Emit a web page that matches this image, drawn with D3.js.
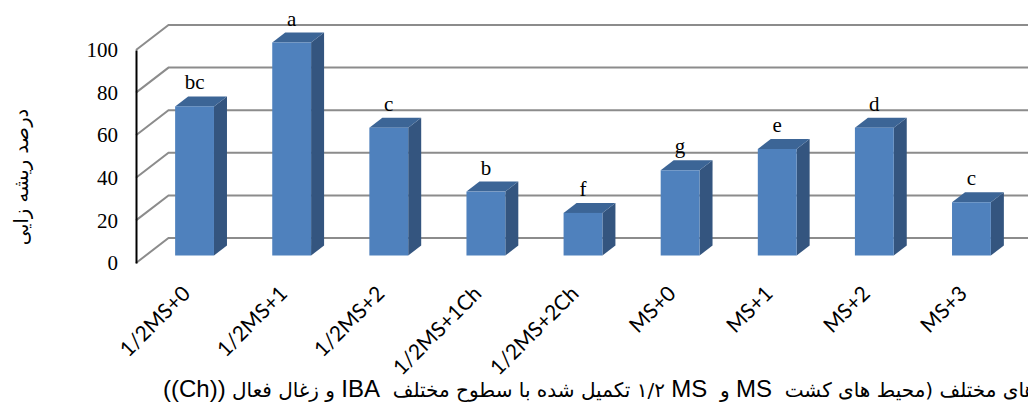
<!DOCTYPE html>
<html>
<head>
<meta charset="utf-8">
<script src="https://cdn.jsdelivr.net/npm/d3@7"></script>
<style>
    html, body { margin: 0; padding: 0; background: #fff; overflow: hidden; }
    svg { display: block; }
    .y-axis text { font-family: "Liberation Serif", serif; font-size: 21px; fill: #000; }
    .x-axis text { font-family: Lato, sans-serif; font-size: 21px; fill: #000; }
    .sig-label { font-family: "Liberation Serif", serif; font-size: 21px; fill: #000; text-anchor: middle; }
    .y-title { font-family: "DejaVu Sans", sans-serif; font-size: 19.5px; fill: #000; }
    .caption { font-family: "DejaVu Sans", sans-serif; font-size: 20px; fill: #000; white-space: pre; direction: rtl; text-anchor: end; }
    .caption .latin { font-family: "Liberation Sans", sans-serif; font-size: 24px; }
</style>
</head>
<body>
<svg id="chart" width="1028" height="403"></svg>
<script>
// chart data
const categories = ["1/2MS+0", "1/2MS+1", "1/2MS+2", "1/2MS+1Ch", "1/2MS+2Ch", "MS+0", "MS+1", "MS+2", "MS+3"];
const values = [70, 100, 60, 30, 20, 40, 50, 60, 25];
const sigLabels = ["bc", "a", "c", "b", "f", "g", "e", "d", "c"];
const yTicks = [0, 20, 40, 60, 80, 100];
const yTitle = "درصد ریشه زایی";

const svg = d3.select("#chart");

// the axis sits on the front plane, bars are pushed back a bit, wall is at the back
const plotBottom = 263, plotTop = 50;
const wallDx = 32.5, wallDy = -25;
const barShiftY = -7.5;
const depthDx = 13, depthDy = -10;
const axisX = 136;

const x = d3.scaleBand()
    .domain(categories)
    .range([146, 1020])
    .paddingInner(0.6)
    .paddingOuter(0.3);

const y = d3.scaleLinear()
    .domain([0, 100])
    .range([plotBottom, plotTop]);

// gridlines: diagonal on the side wall + horizontal on the back wall
const grid = svg.append("g").attr("class", "grid");
yTicks.forEach(t => {
    grid.append("path")
        .attr("d", d3.line()([
            [axisX, y(t)],
            [axisX + wallDx, y(t) + wallDy],
            [1028, y(t) + wallDy]
        ]))
        .attr("fill", "none")
        .attr("stroke", "#8c8c8c")
        .attr("stroke-width", 2);
});

// y axis
const yAxis = d3.axisLeft(y).tickValues(yTicks).tickSize(0).tickPadding(18);
const yAxisGroup = svg.append("g")
    .attr("class", "y-axis")
    .attr("transform", `translate(${axisX}, 0)`)
    .call(yAxis);
yAxisGroup.select(".domain")
    .attr("stroke", "#000")
    .attr("stroke-width", 2);

// bars
const bw = x.bandwidth();
const bars = svg.selectAll(".bar")
    .data(categories.map((c, i) => ({ cat: c, value: values[i], sig: sigLabels[i] })))
    .join("g")
    .attr("class", "bar")
    .attr("transform", d => `translate(${x(d.cat)}, ${barShiftY})`);

bars.append("path") // side
    .attr("d", d => {
        let h = y(0) - y(d.value);
        return `M${bw},${y(0)}l${depthDx},${depthDy}v${-h}l${-depthDx},${-depthDy}z`;
    })
    .attr("fill", "#34557f");

bars.append("path") // top
    .attr("d", d => `M0,${y(d.value)}l${depthDx},${depthDy}h${bw}l${-depthDx},${-depthDy}z`)
    .attr("fill", "#3c6596");

bars.append("rect") // front
    .attr("x", 0)
    .attr("y", d => y(d.value))
    .attr("width", bw)
    .attr("height", d => y(0) - y(d.value))
    .attr("fill", "#4f81bd");

bars.append("text")
    .attr("class", "sig-label")
    .attr("x", bw / 2)
    .attr("y", d => y(d.value) + depthDy - 7)
    .text(d => d.sig);

// category labels, rotated
const xAxis = d3.axisBottom(x).tickSize(0);
const xAxisGroup = svg.append("g")
    .attr("class", "x-axis")
    .attr("transform", "translate(0, 0)")
    .call(xAxis);
xAxisGroup.select(".domain").remove();
xAxisGroup.selectAll("text")
    .attr("text-anchor", "end")
    .attr("x", 0)
    .attr("y", 0)
    .attr("dy", 0)
    .attr("transform", "translate(-3, 295) rotate(-45)");

// y title
svg.append("text")
    .attr("class", "y-title")
    .attr("transform", "translate(28, 177) rotate(-90)")
    .attr("text-anchor", "middle")
    .text(yTitle);

// caption, runs off the right edge of the picture
const caption = svg.append("text")
    .attr("class", "caption")
    .attr("x", 163)
    .attr("y", 397);
caption.append("tspan").text("های مختلف (محیط های کشت  ");
caption.append("tspan").attr("class", "latin").text("MS");
caption.append("tspan").text(" و  ");
caption.append("tspan").attr("class", "latin").text("MS");
caption.append("tspan").text(" \u200F۱/۲ تکمیل شده با سطوح مختلف  ");
caption.append("tspan").attr("class", "latin").text("IBA");
caption.append("tspan").text(" و زغال فعال ");
caption.append("tspan").attr("class", "latin").text("\u200E((Ch))\u200E");
</script>
</body>
</html>
